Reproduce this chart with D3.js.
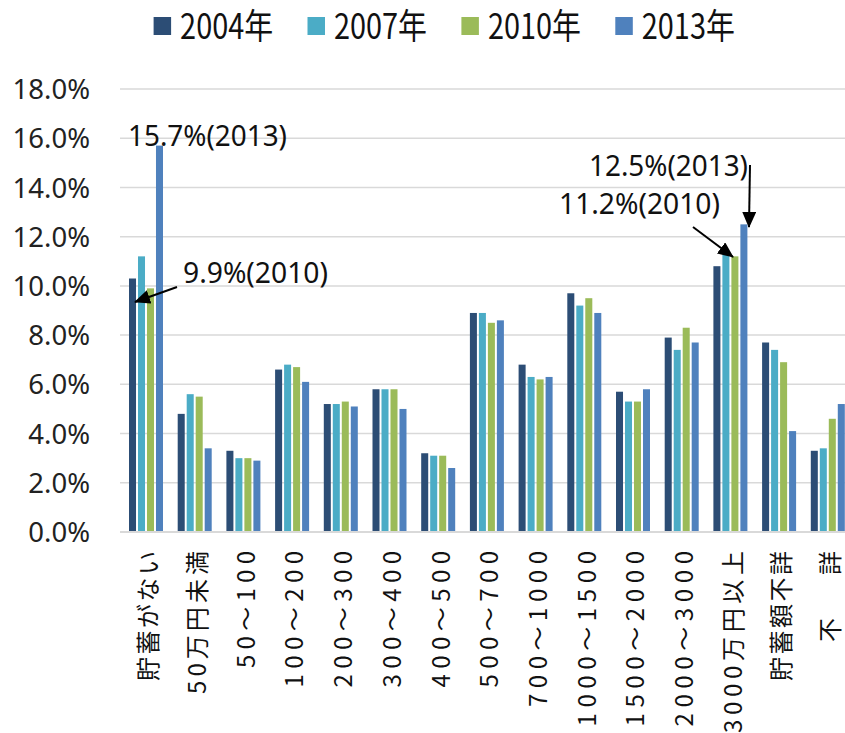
<!DOCTYPE html>
<html>
<head>
<meta charset="utf-8">
<script src="https://cdn.jsdelivr.net/npm/d3@7/dist/d3.min.js"></script>
<style>
  html, body { margin: 0; padding: 0; background: #fff; }
  svg { display: block; }
</style>
</head>
<body>
<svg id="chart" width="845" height="733"></svg>
<script>
// ---- data ----
const categories = ["貯蓄がない","50万円未満","50～100","100～200","200～300","300～400","400～500","500～700","700～1000","1000～1500","1500～2000","2000～3000","3000万円以上","貯蓄額不詳","不　　詳"];
const seriesNames = ["2004年","2007年","2010年","2013年"];
const s2004 = [10.3,4.8,3.3,6.6,5.2,5.8,3.2,8.9,6.8,9.7,5.7,7.9,10.8,7.7,3.3];
const s2007 = [11.2,5.6,3.0,6.8,5.2,5.8,3.1,8.9,6.3,9.2,5.3,7.4,11.3,7.4,3.4];
const s2010 = [9.9,5.5,3.0,6.7,5.3,5.8,3.1,8.5,6.2,9.5,5.3,8.3,11.2,6.9,4.6];
const s2013 = [15.7,3.4,2.9,6.1,5.1,5.0,2.6,8.6,6.3,8.9,5.8,7.7,12.5,4.1,5.2];
const yTicks = [0,2,4,6,8,10,12,14,16,18];
const annotations = [
  {cat: 0, series: 3, text: "15.7%(2013)"},
  {cat: 0, series: 2, text: "9.9%(2010)"},
  {cat: 12, series: 3, text: "12.5%(2013)"},
  {cat: 12, series: 2, text: "11.2%(2010)"}
];

const seriesValues = [s2004, s2007, s2010, s2013];
const colors = ["#2C4D75", "#4BACC6", "#9BBB59", "#4F81BD"];

// ---- layout ----
const svg = d3.select("#chart");
const x0 = d3.scaleBand().domain(d3.range(categories.length)).range([121.5, 852]).padding(0);
const x1 = d3.scaleBand().domain(d3.range(4)).range([7.5, 41.5]).paddingInner(0.22).paddingOuter(0);
const y = d3.scaleLinear().domain([0, 18]).range([532, 89]);

const latin = "'Noto Sans', 'Open Sans', sans-serif";
const cjk = "'Noto Sans CJK JP', 'Noto Sans', sans-serif";

// gridlines
svg.append("g").selectAll("line").data(yTicks.filter(d => d > 0)).join("line")
  .attr("x1", 120).attr("x2", 845)
  .attr("y1", d => y(d)).attr("y2", d => y(d))
  .attr("stroke", "#D9D9D9").attr("stroke-width", 1.5);

// y axis labels
const yAxis = d3.axisLeft(y).tickValues(yTicks).tickSize(0).tickPadding(0)
  .tickFormat(d => d.toFixed(1) + "%");
const yg = svg.append("g").attr("transform", "translate(90,0)").call(yAxis);
yg.select(".domain").remove();
yg.selectAll("text")
  .attr("font-family", latin).attr("font-size", 27.5).attr("fill", "#222")
  .attr("dy", "0.35em");

// bars
const groups = svg.append("g").selectAll("g").data(categories).join("g")
  .attr("transform", (d, i) => `translate(${x0(i)},0)`);
groups.selectAll("rect")
  .data((d, i) => seriesValues.map((s, k) => ({k, v: s[i]})))
  .join("rect")
  .attr("x", d => x1(d.k))
  .attr("width", x1.bandwidth())
  .attr("y", d => y(d.v))
  .attr("height", d => y(0) - y(d.v))
  .attr("fill", d => colors[d.k]);

// baseline axis
svg.append("line")
  .attr("x1", 120).attr("x2", 845).attr("y1", y(0)).attr("y2", y(0))
  .attr("stroke", "#D9D9D9").attr("stroke-width", 2.2);

// x labels (rotated, reading bottom to top)
function labelLength(str) {
  let L = 0;
  for (const ch of str) {
    if (ch === "　" || ch === "～" || /[0-9]/.test(ch)) L += 19.5;
    else L += 26;
  }
  return L;
}
svg.append("g").selectAll("text").data(categories).join("text")
  .attr("transform", (d, i) => `translate(${x0(i) + x0.bandwidth() / 2 + 1},551) rotate(-90)`)
  .attr("text-anchor", "end")
  .attr("dominant-baseline", "central")
  .attr("font-family", cjk).attr("font-size", 24).attr("fill", "#111")
  .attr("textLength", d => labelLength(d))
  .attr("lengthAdjust", "spacing")
  .text(d => d);

// legend
const legend = d3.scaleBand().domain(seriesNames).range([153.6, 769.2]);
const lg = svg.append("g").selectAll("g").data(seriesNames).join("g")
  .attr("transform", d => `translate(${legend(d)},0)`);
lg.append("rect").attr("x", 0).attr("y", 17).attr("width", 17.5).attr("height", 18)
  .attr("fill", (d, i) => colors[i]);
lg.append("text").attr("x", 26.5).attr("y", 38.5)
  .attr("font-family", cjk).attr("font-size", 35).attr("fill", "#111")
  .attr("textLength", 93).attr("lengthAdjust", "spacingAndGlyphs")
  .text(d => d);

// annotations
const defs = svg.append("defs");
defs.append("marker").attr("id", "arrow")
  .attr("markerUnits", "userSpaceOnUse")
  .attr("viewBox", "0 0 16 14").attr("refX", 15).attr("refY", 7)
  .attr("markerWidth", 16).attr("markerHeight", 14)
  .attr("orient", "auto")
  .append("path").attr("d", "M0,0 L16,7 L0,14 Z").attr("fill", "#000");

// label placement relative to the bar top each note refers to
const annLayout = [
  {tdx: -31.5, tdy: 0.5, tlen: 159, arrow: null},
  {tdx: 32.5, tdy: -5.4, tlen: 145, arrow: [26.5, -1.4, -15.5, 13.6]},
  {tdx: -154.9, tdy: -48.4, tlen: 159, arrow: [6.1, -59.4, 5.1, 2.6]},
  {tdx: -175.9, tdy: -42.4, tlen: 161, arrow: [-41.9, -29.4, -1.9, 0.6]}
];
const annG = svg.append("g");
annotations.forEach((a, i) => {
  const L = annLayout[i];
  const cx = x0(a.cat) + x1(a.series) + x1.bandwidth() / 2;
  const cy = y(seriesValues[a.series][a.cat]);
  if (L.arrow) {
    annG.append("line")
      .attr("x1", cx + L.arrow[0]).attr("y1", cy + L.arrow[1])
      .attr("x2", cx + L.arrow[2]).attr("y2", cy + L.arrow[3])
      .attr("stroke", "#000").attr("stroke-width", 2)
      .attr("marker-end", "url(#arrow)");
  }
  annG.append("text")
    .attr("x", cx + L.tdx).attr("y", cy + L.tdy)
    .attr("font-family", latin).attr("font-size", 29).attr("fill", "#111")
    .attr("textLength", L.tlen).attr("lengthAdjust", "spacingAndGlyphs")
    .text(a.text);
});
</script>
</body>
</html>
